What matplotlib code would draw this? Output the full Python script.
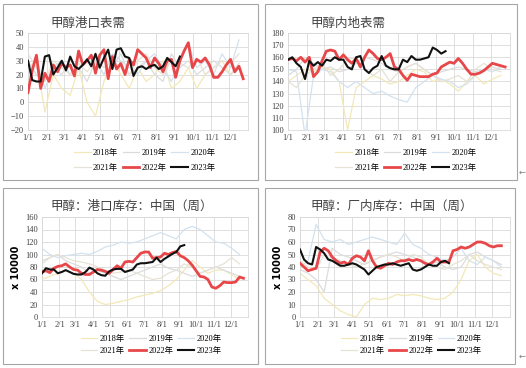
import numpy as np
import matplotlib.pyplot as plt
from matplotlib.patches import Rectangle

plt.rcParams['font.family'] = ['Liberation Serif', 'Noto Sans CJK SC']

years = ['2018年', '2019年', '2020年', '2021年', '2022年', '2023年']
month_days = [0, 31, 59, 90, 120, 151, 181, 212, 243, 273, 304, 334]
month_labels = ['1/1', '2/1', '3/1', '4/1', '5/1', '6/1', '7/1', '8/1', '9/1', '10/1', '11/1', '12/1']

# 甲醇港口表需
port_demand = {
    '2018年': [25, 30, -7, 20, 10, 5, 25, 0, -10, 15, 30, 20, 10, 25, 15, 20, 30, 10, 15, 25, 10, 20, 25, 30, 20, 25],
    '2019年': [30, 20, 15, 25, 20, 30, 25, 15, 30, 20, 25, 35, 20, 25, 30, 20, 15, 35, 25, 30, 20, 25, 30, 25, 20, 28],
    '2020年': [20, 30, 10, 25, 30, 20, 25, 30, 28, 20, 35, 30, 25, 20, 30, 35, 25, 15, 30, 42, 25, 30, 20, 35, 25, 45],
    '2021年': [35, 25, 15, 30, 25, 20, 28, 22, 30, 25, 30, 25, 20, 30, 35, 25, 20, 30, 28, 25, 32, 20, 25, 30, 28, 35],
    '2022年': [7, 23, 34, 10, 21, 15, 27, 22, 28, 25, 27, 19, 37, 27, 30, 34, 21, 34, 38, 17, 33, 24, 28, 20, 31, 27,
              38, 35, 32, 25, 32, 28, 22, 30, 31, 18, 30, 37, 43, 25, 31, 29, 32, 27, 18, 18, 22, 27, 31, 22, 26, 17],
    '2023年': [30, 16, 15, 15, 33, 34, 20, 25, 30, 23, 33, 26, 24, 27, 31, 26, 35, 25, 32, 38, 24, 38, 39, 33, 32, 19,
              25, 26, 24, 26, 27, 24, 26, 32, 29, 26, 33],
}

# 甲醇内地表需
inland_demand = {
    '2018年': [140, 145, 150, 148, 152, 150, 140, 100, 135, 140, 145, 142, 138, 140, 145, 150, 148, 140, 142, 138, 132, 140, 145, 138, 142, 145],
    '2019年': [145, 150, 160, 155, 150, 152, 148, 150, 155, 160, 158, 155, 150, 148, 152, 155, 150, 145, 148, 150, 152, 150, 148, 150, 152, 150],
    '2020年': [150, 148, 95, 145, 150, 148, 140, 135, 140, 135, 130, 132, 128, 125, 123, 135, 140, 145, 142, 140, 135, 138, 145, 150, 148, 152],
    '2021年': [140, 135, 145, 150, 155, 145, 150, 158, 160, 150, 145, 150, 140, 148, 152, 155, 150, 145, 140, 142, 145, 140, 150, 155, 150, 148],
    '2022年': [158, 159, 157, 160, 156, 160, 144, 148, 157, 165, 166, 165, 158, 162, 158, 155, 159, 152, 160, 166, 163, 159,
              158, 160, 163, 152, 150, 145, 141, 146, 145, 144, 144, 144, 146, 147, 152, 154, 156, 155, 159, 155, 150, 146,
              146, 147, 149, 152, 155, 154, 153, 152],
    '2023年': [158, 160, 155, 152, 142, 157, 153, 156, 153, 158, 157, 160, 158, 158, 152, 150, 160, 161, 150, 147, 151, 153,
              161, 153, 151, 150, 150, 158, 156, 161, 158, 158, 159, 160, 168, 166, 163, 165],
}

# 甲醇：港口库存：中国（周）
port_stock = {
    '2018年': [60, 65, 70, 75, 70, 60, 40, 25, 20, 22, 25, 28, 32, 35, 38, 42, 50, 60, 75, 90, 80, 70, 75, 75, 68, 60],
    '2019年': [90, 95, 100, 90, 85, 80, 70, 75, 70, 65, 60, 65, 70, 75, 80, 85, 78, 75, 70, 65, 70, 75, 80, 75, 70, 65],
    '2020年': [110, 100, 95, 98, 100, 102, 100, 105, 112, 115, 120, 118, 120, 125, 130, 135, 130, 125, 140, 145, 140, 130, 120, 118, 110, 100],
    '2021年': [85, 95, 100, 95, 90, 88, 85, 80, 75, 70, 72, 75, 70, 65, 60, 62, 70, 75, 85, 80, 70, 75, 80, 85, 95, 85],
    '2022年': [72, 74, 71, 78, 81, 82, 85, 80, 76, 75, 70, 68, 68, 72, 76, 75, 73, 70, 76, 82, 78, 88, 89, 88, 95, 102,
              104, 104, 94, 95, 96, 102, 100, 103, 105, 98, 95, 90, 83, 74, 65, 64, 60, 48, 46, 50, 56, 55, 55, 56, 64, 62],
    '2023年': [70, 78, 76, 76, 70, 72, 75, 72, 69, 68, 68, 72, 79, 76, 70, 67, 66, 73, 76, 77, 77, 72, 74, 76, 84, 86,
              86, 87, 88, 95, 88, 93, 97, 101, 104, 113, 115],
}

# 甲醇：厂内库存：中国（周）
plant_stock = {
    '2018年': [35, 30, 25, 15, 10, 5, 2, 0, 10, 15, 14, 15, 18, 17, 18, 17, 15, 14, 15, 20, 30, 45, 50, 40, 35, 33],
    '2019年': [38, 35, 30, 20, 55, 50, 48, 45, 42, 45, 48, 50, 52, 50, 48, 45, 42, 44, 40, 38, 40, 50, 52, 48, 45, 42],
    '2020年': [40, 45, 74, 62, 60, 62, 58, 60, 62, 64, 62, 60, 58, 67, 58, 55, 50, 48, 45, 48, 55, 45, 42, 48, 45, 40],
    '2021年': [45, 40, 38, 50, 48, 45, 42, 40, 43, 45, 48, 50, 48, 45, 50, 48, 42, 40, 38, 42, 45, 50, 45, 42, 40, 38],
    '2022年': [43, 40, 37, 38, 39, 52, 55, 53, 48, 45, 43, 44, 42, 47, 49, 48, 45, 53, 45, 40, 39, 41, 43, 42, 44, 45,
              45, 46, 45, 46, 45, 43, 42, 44, 47, 44, 44, 44, 53, 54, 56, 55, 56, 58, 60, 60, 59, 57, 56, 57, 57],
    '2023年': [54, 46, 43, 42, 56, 54, 51, 46, 45, 43, 41, 41, 42, 43, 42, 40, 38, 34, 37, 40, 41, 42, 42, 43, 42, 41,
              42, 43, 38, 37, 38, 40, 42, 41, 41, 44, 45, 43],
}

colors = {'2018年': '#f3e8b8', '2019年': '#dcdcdc', '2020年': '#d3e2ee',
          '2021年': '#e6e2d6', '2022年': '#e8474a', '2023年': '#111111'}
widths = {'2018年': 0.9, '2019年': 0.9, '2020年': 0.9, '2021年': 0.9, '2022年': 2.0, '2023年': 1.5}

fig = plt.figure(figsize=(5.26, 3.68), dpi=100)

panels = [
    (port_demand, '甲醇港口表需', (-20, 50, 10), False, [28, 248, 33, 130], [3, 4, 255, 176], (50, 23)),
    (inland_demand, '甲醇内地表需', (100, 180, 10), False, [288, 510, 33, 130], [265, 4, 252, 176], (310, 23)),
    (port_stock, '甲醇：港口库存：中国（周）', (0, 160, 20), True, [42, 248, 217, 317], [3, 188, 255, 176], (50, 206)),
    (plant_stock, '甲醇：厂内库存：中国（周）', (0, 80, 10), True, [300, 510, 217, 317], [265, 188, 250, 176], (310, 206)),
]

W, H = 526, 368
for data, title, (y0, y1, ystep), unit, (l, r, t, b), (bx, by, bw, bh), (tx, ty) in panels:
    fig.patches.append(Rectangle((bx / W, 1 - (by + bh) / H), bw / W, bh / H, transform=fig.transFigure,
                                 fill=False, edgecolor='#a6a6a6', linewidth=0.8))
    ax = fig.add_axes([l / W, 1 - b / H, (r - l) / W, (b - t) / H])
    handles = {}
    for y in years:
        vals = data[y]
        if len(vals) == 26:
            days = np.arange(len(vals)) * 14
        else:
            days = np.arange(len(vals)) * 7
        h, = ax.plot(days, vals, color=colors[y], linewidth=widths[y], label=y,
                     zorder=3 if y in ('2022年', '2023年') else 2)
        handles[y] = h
    ax.set_xlim(0, 365)
    ax.set_ylim(y0, y1)
    ax.set_yticks(np.arange(y0, y1 + 1, ystep))
    ax.set_xticks(month_days)
    ax.set_xticklabels(month_labels)
    ax.tick_params(length=0, labelsize=6, colors='#404040', pad=3)
    ax.grid(True, color='#d9d9d9', linewidth=0.6)
    ax.set_axisbelow(True)
    for s in ax.spines.values():
        s.set_color('#d9d9d9')
        s.set_linewidth(0.6)
    if unit:
        ax.set_ylabel('x 10000', fontsize=7, family='DejaVu Sans', fontweight='bold', labelpad=3)
    fig.text(tx / W, 1 - ty / H, title, fontsize=9, family=['Noto Sans CJK SC'],
             color='#404040', va='center', ha='left')
    order = ['2018年', '2021年', '2019年', '2022年', '2020年', '2023年']
    ax.legend([handles[k] for k in order], order, ncol=3, frameon=False,
              loc='upper center', bbox_to_anchor=(0.53, -0.12 if not unit else -0.1),
              handlelength=2.0, handletextpad=0.3, columnspacing=0.5,
              labelspacing=0.8 if not unit else 0.5,
              prop={'family': ['Liberation Serif', 'Noto Sans CJK SC'], 'size': 6})

fig.text(519 / W, 1 - 172 / H, '←', fontsize=6, color='#808080', va='center', ha='left', family='DejaVu Sans')
fig.text(519 / W, 1 - 356 / H, '←', fontsize=6, color='#808080', va='center', ha='left', family='DejaVu Sans')

fig.savefig('out.png', dpi=100)
